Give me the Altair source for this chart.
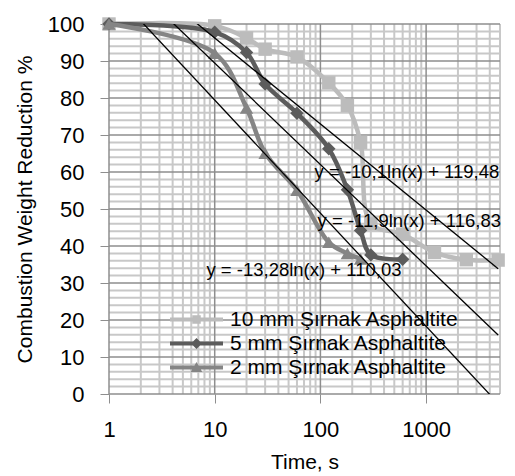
import altair as alt
import pandas as pd

# ---------------- data ----------------
series_names = ["10 mm Şırnak Asphaltite", "5 mm Şırnak Asphaltite", "2 mm Şırnak Asphaltite"]
series_colors = ["#bcbcbc", "#5c5c5c", "#858585"]
series_shapes = ["square", "diamond", "triangle-up"]

time_10 = [1, 10, 20, 30, 60, 120, 180, 240, 300, 600, 1200, 2400, 4800]
red_10 = [100, 99.5, 96.2, 93.2, 91.1, 84.1, 78, 68, 46, 43.2, 38.3, 36.3, 36.2]
time_5 = [1, 10, 20, 30, 60, 120, 180, 240, 300, 600]
red_5 = [100, 97.8, 92.3, 83.8, 75.9, 66.3, 55.2, 44.2, 37.6, 36.4]
time_2 = [1, 10, 20, 30, 60, 120, 180, 240]
red_2 = [100, 92.1, 77.3, 65.1, 55.1, 41, 38, 36.5]

trend_slopes = [-10.1, -11.9, -13.28]
trend_intercepts = [119.48, 116.83, 110.03]
trend_x_range = [1, 4800]
trend_labels = ["y = -10,1ln(x) + 119,48", "y = -11,9ln(x) + 116,83", "y = -13,28ln(x) + 110,03"]
label_x = [88, 94, 8.35]
label_y = [60.1, 46.8, 33.6]

x_ticks = [1, 10, 100, 1000]
x_minor = [2, 3, 4, 5, 6, 7, 8, 9, 20, 30, 40, 50, 60, 70, 80, 90,
           200, 300, 400, 500, 600, 700, 800, 900, 2000, 3000, 4000, 5000]
y_ticks = list(range(0, 101, 10))
y_minor = [v for v in range(0, 101, 2) if v % 10 != 0]

# ---------------- tables ----------------
rows = []
for name, ts, vs in zip(series_names, [time_10, time_5, time_2], [red_10, red_5, red_2]):
    for i, (t, v) in enumerate(zip(ts, vs)):
        rows.append({"series": name, "time": t, "red": v, "i": i})
df = pd.DataFrame(rows)

trend_rows = []
for k, (a, b) in enumerate(zip(trend_slopes, trend_intercepts)):
    for x in trend_x_range:
        trend_rows.append({"eq": k, "a": a, "b": b, "x": x})
df_trend = pd.DataFrame(trend_rows)

df_lab = pd.DataFrame({"label": trend_labels, "x": label_x, "y": label_y})

FONT = "Liberation Sans"
xscale = alt.Scale(type="log", domain=[1, 5000], nice=False)
yscale = alt.Scale(domain=[0, 100], nice=False)

xaxis = alt.Axis(values=x_ticks, format="d", title="Time, s", grid=False, domain=False,
                 tickColor="#8e8e8e", tickSize=9, labelFont=FONT, labelFontSize=22,
                 labelColor="#000000", labelPadding=16, labelFlush=False, labelOverlap=False,
                 titleFont=FONT, titleFontSize=21, titleFontWeight="normal",
                 titleColor="#000000", titlePadding=11)
yaxis = alt.Axis(values=y_ticks, title="Combustion Weight Reduction %", grid=False, domain=False,
                 tickColor="#8e8e8e", tickSize=9, labelFont=FONT, labelFontSize=22,
                 labelColor="#000000", labelPadding=16, labelFlush=False, labelOverlap=False,
                 titleFont=FONT, titleFontSize=21, titleFontWeight="normal",
                 titleColor="#000000", titlePadding=12)

X = lambda f: alt.X(f, type="quantitative", scale=xscale, axis=xaxis)
Y = lambda f: alt.Y(f, type="quantitative", scale=yscale, axis=yaxis)

vminor = alt.Chart(pd.DataFrame({"v": x_minor})).mark_rule(color="#c8c8c8", strokeWidth=2).encode(x=X("v"))
hminor = alt.Chart(pd.DataFrame({"v": y_minor})).mark_rule(color="#c8c8c8", strokeWidth=2).encode(y=Y("v"))
vmajor = alt.Chart(pd.DataFrame({"v": x_ticks})).mark_rule(color="#8e8e8e", strokeWidth=1.5).encode(x=X("v"))
hmajor = alt.Chart(pd.DataFrame({"v": y_ticks})).mark_rule(color="#8e8e8e", strokeWidth=1.5).encode(y=Y("v"))

series_layers = []
for name, col, shp in zip(series_names, series_colors, series_shapes):
    base = alt.Chart(df).transform_filter(alt.datum.series == name)
    series_layers.append(
        base.mark_line(interpolate="catmull-rom", strokeWidth=4.5, color=col).encode(
            x=X("time"), y=Y("red"), order="i:Q")
    )
    series_layers.append(
        base.mark_point(filled=True, opacity=1, size=180, shape=shp, color=col).encode(
            x=X("time"), y=Y("red"))
    )

trend = alt.Chart(df_trend).transform_calculate(
    yv="datum.a * log(datum.x) + datum.b"
).mark_line(color="#000000", strokeWidth=1.3, clip=True).encode(
    x=X("x"), y=Y("yv"), detail="eq:N"
)

labels = alt.Chart(df_lab).mark_text(align="left", baseline="middle", font=FONT,
                                     fontSize=18.5, color="#000000").encode(
    x=X("x"), y=Y("y"), text="label:N"
)

# legend symbols: a thick line segment with the series marker in the middle
p_sq = "M-5.3,-0.4L5.3,-0.4L5.3,0.4L-5.3,0.4Z M-0.85,-0.85L0.85,-0.85L0.85,0.85L-0.85,0.85Z"
p_di = "M-5.3,-0.4L5.3,-0.4L5.3,0.4L-5.3,0.4Z M0,-1.1L1.1,0L0,1.1L-1.1,0Z"
p_tr = "M-5.3,-0.4L5.3,-0.4L5.3,0.4L-5.3,0.4Z M0,-1.1L1.15,0.9L-1.15,0.9Z"

leg = alt.Legend(orient="none", legendX=77, legendY=285, title=None, labelFont=FONT,
                 labelFontSize=21, labelColor="#000000", symbolSize=100, symbolStrokeWidth=0,
                 symbolOpacity=1, labelOffset=23, rowPadding=2, padding=0, labelLimit=400)

legend_layer = alt.Chart(df).mark_point(filled=True, opacity=0, size=100).encode(
    x=X("time"), y=Y("red"),
    color=alt.Color("series:N", scale=alt.Scale(domain=series_names, range=series_colors),
                    legend=leg, sort=series_names),
    shape=alt.Shape("series:N", scale=alt.Scale(domain=series_names, range=[p_sq, p_di, p_tr]),
                    legend=leg, sort=series_names),
)

chart = alt.layer(
    vminor, hminor, vmajor, hmajor, *series_layers, trend, labels, legend_layer
).properties(
    width=391, height=370,
    padding={"left": 109, "top": 24, "right": 15, "bottom": 82},
    autosize=alt.AutoSizeParams(type="none"),
    background="#ffffff",
).configure_view(stroke=None)

chart.save("out.html", embed_options={"renderer": "svg", "actions": False})
